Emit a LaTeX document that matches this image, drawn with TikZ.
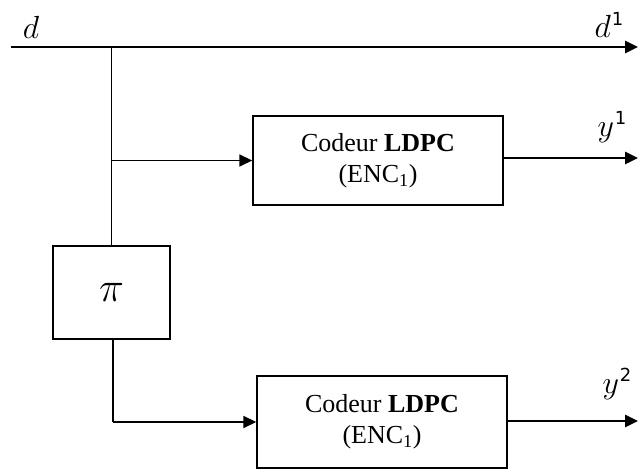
\documentclass[tikz,border=0pt]{standalone}
\RequirePackage{fix-cm}
\usepackage{fontspec}
\setmainfont{Liberation Serif}
\newfontfamily\supfont{DejaVu Sans}
\usetikzlibrary{arrows.meta}
\newcommand{\symsup}[2]{$#1$\kern1pt\raisebox{.40em}{\supfont\fontsize{18}{20}\selectfont #2}}
\begin{document}
\begin{tikzpicture}[x=1pt,y=-1pt,
  blk/.style={draw,line width=1.4pt,inner sep=0pt,align=center,font=\fontsize{26}{31}\selectfont},
  sig/.style={line width=2.6pt,-{Triangle[length=13pt,width=12pt]}},
  wire/.style={line width=1.6pt},
  lbl/.style={inner sep=0pt,font=\fontsize{32}{36}\selectfont}]
\useasboundingbox (0,0) rectangle (638,470);
\node[blk,minimum width=250,minimum height=89] (enc1) at (378,160.5) {Codeur \textbf{LDPC}\\(ENC\textsubscript{1})};
\node[blk,minimum width=250,minimum height=92] (enc2) at (382,422) {Codeur \textbf{LDPC}\\(ENC\textsubscript{1})};
\node[blk,minimum width=117,minimum height=93,font=\fontsize{42}{46}\selectfont] (pi) at (111.5,292.5) {$\pi$};
\coordinate (din) at (11,47);
\coordinate (dout) at (638,47);
\coordinate (j1) at (111.5,47);
\coordinate (j2) at (111.5,160.5);
\coordinate (j3) at (113,422);
\coordinate (y1out) at (638,158);
\coordinate (y2out) at (638,421);
\draw[sig] (din) -- (dout);
\draw[wire] (j1) -- (pi.north);
\draw[sig,line width=1.6pt] (j2) -- (enc1.west);
\draw[wire] (pi.south -| j3) -- (j3);
\draw[sig,line width=1.6pt] (j3) -- (enc2.west);
\draw[sig] (enc1.east |- y1out) -- (y1out);
\draw[sig] (enc2.east |- y2out) -- (y2out);
\node[lbl] (ld) at (31,27) {$d$};
\node[lbl] (ld1) at (609,25) {\symsup{d}{1}};
\node[lbl] (ly1) at (612,127) {\symsup{y}{1}};
\node[lbl] (ly2) at (617,384) {\symsup{y}{2}};
\end{tikzpicture}
\end{document}
